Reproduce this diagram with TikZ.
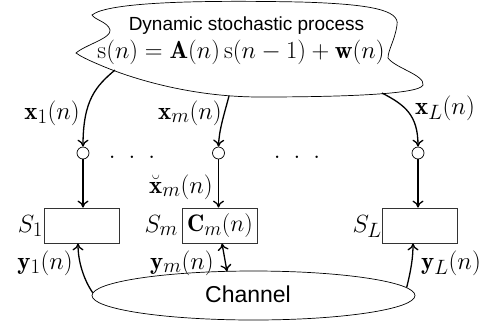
\documentclass[tikz,border=0pt]{standalone}
\usepackage{fontspec}
\newfontfamily\labelsans{Liberation Sans}
\usetikzlibrary{arrows.meta,shapes.geometric}
\newcommand{\mlab}[1]{\scalebox{0.96}{$#1$}}
\begin{document}
\begin{tikzpicture}[x=1pt,y=-1pt,
  lab/.style={inner sep=0pt,font=\fontsize{24.88}{30}\selectfont},
  arr/.style={line width=1.3pt,-{To[length=7pt,width=11pt]}},
  dblarr/.style={line width=1.3pt,{To[length=7pt,width=11pt]}-{To[length=7pt,width=11pt]}},
  hub/.style={circle,draw,line width=0.7pt,minimum size=12pt,inner sep=0pt},
  sensor/.style={draw=black!80,line width=0.8pt,minimum width=75pt,minimum height=35pt,inner sep=0pt,font=\fontsize{24.88}{30}\selectfont},
  outline/.style={line width=0.7pt}]
\useasboundingbox (0,0) rectangle (487,325);

% cloud
\draw[outline] (92,15) .. controls (108,2) and (200,0) .. (300,2)
 .. controls (370,4) and (400,10) .. (397,25)
 .. controls (395,40) and (388,50) .. (388,58)
 .. controls (395,68) and (425,75) .. (423,85)
 .. controls (420,95) and (330,97) .. (260,97)
 .. controls (190,97) and (130,78) .. (100,65)
 .. controls (88,60) and (80,56) .. (76,53)
 .. controls (85,45) and (112,38) .. (110,30)
 .. controls (108,22) and (95,20) .. (92,15) -- cycle;
\node[inner sep=0pt,anchor=base,font=\labelsans\fontsize{19}{23}\selectfont] (title) at (246.5,30) {Dynamic stochastic process};
\node[lab,anchor=base] (eq) at (241,58) {\scalebox{0.99}{$\mathrm{s}(n)=\mathbf{A}(n)\,\mathrm{s}(n-1)+\mathbf{w}(n)$}};

\coordinate (s1) at (115,70);
\coordinate (sm) at (229,96);
\coordinate (sL) at (382,93);

% hubs
\node[hub] (c1) at (83,153) {};
\node[hub] (cm) at (218.5,153) {};
\node[hub] (cL) at (418,153) {};
\node[lab,anchor=base] (d1) at (132,158.5) {$.\hspace{13pt}.\hspace{13pt}.$};
\node[lab,anchor=base] (d2) at (297,158.5) {$.\hspace{13pt}.\hspace{13pt}.$};

% sensors
\node[sensor] (b1) at (82,225.5) {};
\node[sensor] (bm) at (220,225.5) {\mlab{\mathbf{C}_m(n)}};
\node[sensor] (bL) at (419.5,225.5) {};

% cloud to hubs
\draw[arr] (s1) .. controls (96,86) and (83,100) .. (c1.north);
\draw[arr] (sm) .. controls (224,115) and (219,130) .. (cm.north);
\draw[arr] (sL) .. controls (405,105) and (418,115) .. (cL.north);

% hubs to sensors
\draw[arr] (c1) -- (c1 |- b1.north);
\draw[arr] (cm) -- (cm |- bm.north);
\draw[arr] (cL) -- (cL |- bL.north);

% channel
\node[ellipse,draw,outline,minimum width=323pt,minimum height=49pt,inner sep=0pt] (ch) at (253.5,295.5) {};
\node[inner sep=0pt,anchor=base,font=\labelsans\fontsize{23}{28}\selectfont] (chl) at (248,302) {Channel};
\coordinate (ym0) at (227,271.5);

\draw[arr] (ch.179) .. controls (84,280) and (78,262) .. ([xshift=-4pt]b1.south);
\draw[arr] (ch.3) .. controls (411,270) and (413,258) .. ([xshift=-6.5pt]bL.south);
\draw[dblarr] (ym0) -- ([xshift=2pt]bm.south);

% labels
\node[lab,anchor=base east] (lx1) at (80,119) {$\mathbf{x}_1(n)$};
\node[lab,anchor=base east] (lxm) at (222,119) {$\mathbf{x}_m(n)$};
\node[lab,anchor=base west] (lxL) at (415,114) {$\mathbf{x}_L(n)$};
\node[lab,anchor=base east] (lxb) at (213,193) {$\breve{\mathbf{x}}_m(n)$};
\node[lab,anchor=base east] (lS1) at (43,232) {$S_1$};
\node[lab,anchor=base east] (lSm) at (178,232) {$S_m$};
\node[lab,anchor=base east] (lSL) at (382,232) {$S_L$};
\node[lab,anchor=base east] (ly1) at (73,269) {$\mathbf{y}_1(n)$};
\node[lab,anchor=base east] (lym) at (214,269) {$\mathbf{y}_m(n)$};
\node[lab,anchor=base west] (lyL) at (421,269) {$\mathbf{y}_L(n)$};
\end{tikzpicture}
\end{document}
